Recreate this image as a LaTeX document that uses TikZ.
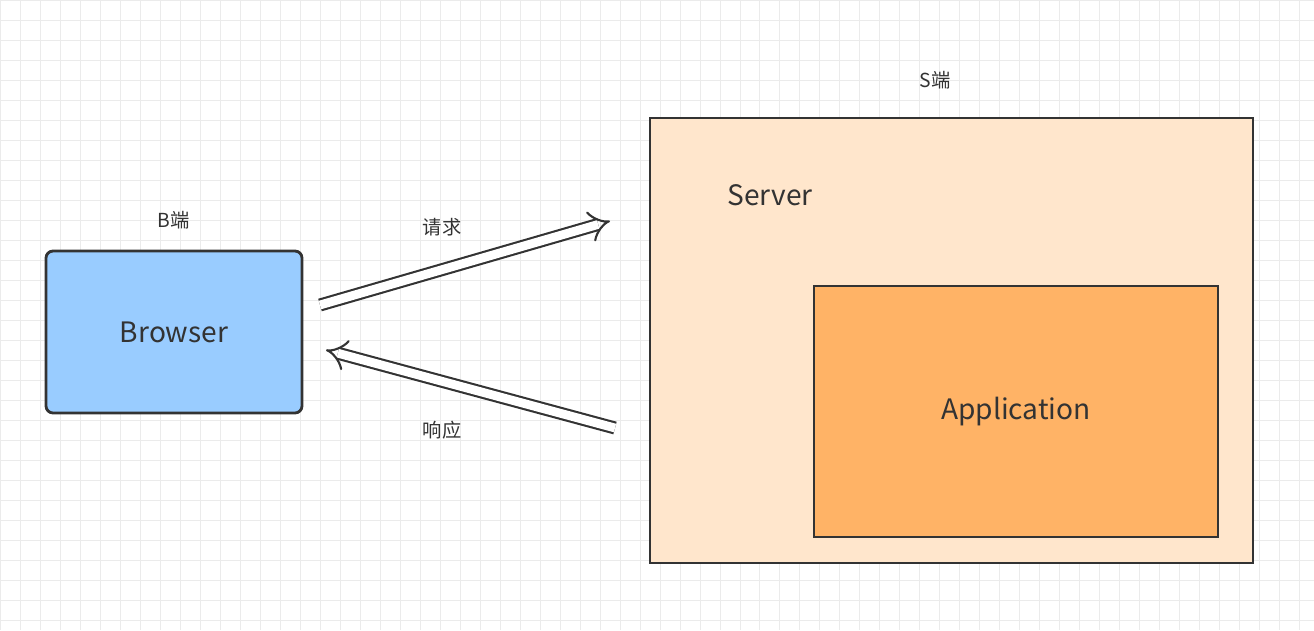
\documentclass[tikz,border=0pt]{standalone}
\usepackage{fontspec}
\setmainfont{Noto Sans CJK SC}
\usetikzlibrary{arrows.meta}
\definecolor{boxline}{HTML}{333333}
\definecolor{bluefill}{HTML}{99CCFF}
\definecolor{serverfill}{HTML}{FFE6CC}
\definecolor{appfill}{HTML}{FFB366}
\tikzset{
  box/.style={draw=boxline, line width=1.6pt},
  bigarrow/.style={double=white, draw=boxline, double distance=5pt, line width=1.2pt, -{Implies}},
  label/.style={font=\fontsize{11}{13}\selectfont, text=boxline}
}
\begin{document}
\begin{tikzpicture}[x=0.02cm,y=-0.02cm]
\useasboundingbox (0,0) rectangle (1314,630);
\fill[white] (0,0) rectangle (1314,630);
\draw[black!8, line width=0.4pt, step=0.4cm] (0,0) grid (1314,630);
% B side
\node[box, rounded corners=4pt, fill=bluefill, minimum width=256*0.02cm, minimum height=162*0.02cm,
  font=\fontsize{16}{18}\selectfont, text=boxline] (browser) at (174,332) {Browser};
\node[label] (bside) at (174,220) {B端};
% S side
\node[box, fill=serverfill, minimum width=603*0.02cm, minimum height=445*0.02cm] (server) at (951.5,340.5) {};
\node[label] (sside) at (935,80) {S端};
\node[font=\fontsize{16}{18}\selectfont, text=boxline] (servertxt) at (770,195) {Server};
\node[box, fill=appfill, minimum width=404*0.02cm, minimum height=251*0.02cm,
  font=\fontsize{16}{18}\selectfont, text=boxline] (app) at (1016,411.5) {Application};
% arrows
\coordinate (reqa) at (320,305);
\coordinate (reqb) at (610,221);
\coordinate (resa) at (615,428);
\coordinate (resb) at (326,350);
\draw[bigarrow] (reqa) -- (reqb);
\draw[bigarrow] (resa) -- (resb);
\node[label] (req) at (442,227) {请求};
\node[label] (res) at (442,430) {响应};
\end{tikzpicture}
\end{document}
